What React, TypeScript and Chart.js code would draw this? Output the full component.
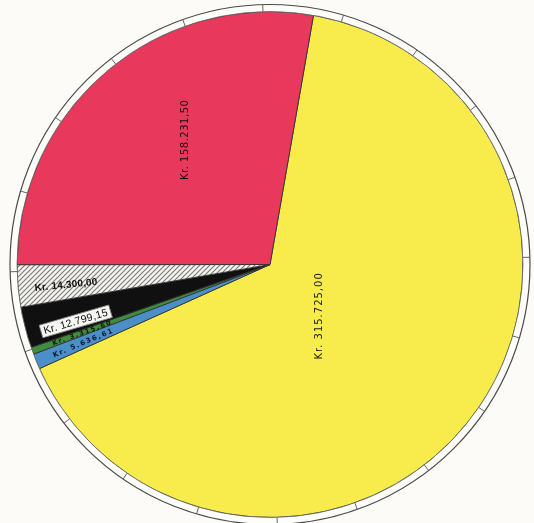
import React, { useEffect, useRef } from "react";
import { Chart, ArcElement, PieController } from "chart.js";

Chart.register(ArcElement, PieController);

// Slices in drawing order (clockwise from the red/yellow boundary)
const categories = ["Gelb", "Blau", "Grün", "Schwarz", "Schraffiert", "Rot"];
// Slice sizes (percent of the full circle)
const sliceShares = [65.5, 0.98, 0.45, 2.62, 2.69, 27.76];
// Amount labels written on the slices
const amountLabels = [
  "Kr. 315.725,00",
  "Kr. 5.636,61",
  "Kr. 3.315,60",
  "Kr. 12.799,15",
  "Kr. 14.300,00",
  "Kr. 158.231,50",
];
// Division ticks on the outer ring
const ringTickCount = 20;

type LabelStyle = {
  angleFrac: number;
  radiusFrac: number;
  mode: "vertical" | "radial";
  font: string;
  spacing: string;
  color: string;
  box?: boolean;
};

const labelStyles: LabelStyle[] = [
  { angleFrac: 0.537, radiusFrac: 0.28, mode: "vertical", font: "10px 'DejaVu Sans'", spacing: "1px", color: "#1a1a14" },
  { angleFrac: 0.45, radiusFrac: 0.8, mode: "radial", font: "bold 7px 'DejaVu Sans'", spacing: "1.5px", color: "#0c1830" },
  { angleFrac: 0.5, radiusFrac: 0.79, mode: "radial", font: "bold 6.5px 'DejaVu Sans'", spacing: "1.6px", color: "#0a1406" },
  { angleFrac: 0.3, radiusFrac: 0.8, mode: "radial", font: "10.5px 'Liberation Sans'", spacing: "0.3px", color: "#0a0a0a", box: true },
  { angleFrac: 0.42, radiusFrac: 0.81, mode: "radial", font: "bold 10px 'Liberation Sans'", spacing: "0.2px", color: "#111" },
  { angleFrac: 0.557, radiusFrac: 0.597, mode: "vertical", font: "10px 'DejaVu Sans'", spacing: "0.5px", color: "#1a0a10" },
];

function makeHatch(): CanvasPattern | string {
  const c = document.createElement("canvas");
  c.width = 5;
  c.height = 5;
  const g = c.getContext("2d");
  if (!g) return "#ddd";
  g.fillStyle = "#f4f3ee";
  g.fillRect(0, 0, 5, 5);
  g.strokeStyle = "#7a7a78";
  g.lineWidth = 1.1;
  g.beginPath();
  g.moveTo(-1, 6);
  g.lineTo(6, -1);
  g.moveTo(-1, 1);
  g.lineTo(1, -1);
  g.moveTo(4, 6);
  g.lineTo(6, 4);
  g.stroke();
  const p = g.createPattern(c, "repeat");
  return p || "#ddd";
}

const ringPlugin = {
  id: "ringAndLabels",
  afterDatasetsDraw(chart: any) {
    const ctx: CanvasRenderingContext2D = chart.ctx;
    const meta = chart.getDatasetMeta(0);
    if (!meta.data.length) return;
    const first = meta.data[0].getProps(["x", "y", "outerRadius"], true);
    const cx = first.x;
    const cy = first.y;
    const R = first.outerRadius;
    const W = 7;
    ctx.save();
    // white ring
    ctx.beginPath();
    ctx.arc(cx, cy, R + W, 0, Math.PI * 2);
    ctx.arc(cx, cy, R, 0, Math.PI * 2, true);
    ctx.fillStyle = "#fdfdfa";
    ctx.fill();
    ctx.lineWidth = 1.2;
    ctx.strokeStyle = "#4a4a4a";
    ctx.beginPath();
    ctx.arc(cx, cy, R + W, 0, Math.PI * 2);
    ctx.stroke();
    ctx.lineWidth = 0.8;
    ctx.strokeStyle = "#6a6a6a";
    ctx.beginPath();
    ctx.arc(cx, cy, R, 0, Math.PI * 2);
    ctx.stroke();
    // ticks
    const tickOffset = (-1.6 * Math.PI) / 180;
    ctx.lineWidth = 0.9;
    ctx.strokeStyle = "#555";
    for (let i = 0; i < ringTickCount; i++) {
      const a = -Math.PI / 2 + tickOffset + (i * 2 * Math.PI) / ringTickCount;
      ctx.beginPath();
      ctx.moveTo(cx + Math.cos(a) * R, cy + Math.sin(a) * R);
      ctx.lineTo(cx + Math.cos(a) * (R + W), cy + Math.sin(a) * (R + W));
      ctx.stroke();
    }
    // labels
    meta.data.forEach((arc: any, i: number) => {
      const st = labelStyles[i];
      const p = arc.getProps(["x", "y", "startAngle", "endAngle", "outerRadius"], true);
      const ang = p.startAngle + (p.endAngle - p.startAngle) * st.angleFrac;
      const r = p.outerRadius * st.radiusFrac;
      const x = p.x + Math.cos(ang) * r;
      const y = p.y + Math.sin(ang) * r;
      ctx.save();
      ctx.translate(x, y);
      ctx.rotate(st.mode === "vertical" ? -Math.PI / 2 : ang + Math.PI);
      ctx.font = st.font;
      (ctx as any).letterSpacing = st.spacing;
      ctx.textAlign = "center";
      ctx.textBaseline = "middle";
      const text = amountLabels[i];
      if (st.box) {
        const w = ctx.measureText(text).width + 6;
        ctx.fillStyle = "#f6f6f2";
        ctx.fillRect(-w / 2, -6.5, w, 13);
        ctx.lineWidth = 0.8;
        ctx.strokeStyle = "#888";
        ctx.strokeRect(-w / 2, -6.5, w, 13);
      }
      ctx.fillStyle = st.color;
      ctx.fillText(text, 0, 0.5);
      ctx.restore();
    });
    ctx.restore();
  },
};

export default function App() {
  const ref = useRef<HTMLCanvasElement | null>(null);
  useEffect(() => {
    document.body.style.margin = "0";
    document.body.style.background = "#fcfbf7";
    if (!ref.current) return;
    const chart = new Chart(ref.current, {
      type: "pie",
      data: {
        labels: categories,
        datasets: [
          {
            data: sliceShares,
            backgroundColor: ["#f7ec4c", "#4a8fc8", "#3f8c3c", "#101010", makeHatch() as any, "#e8395c"],
            borderColor: "#333",
            borderWidth: 0.9,
          },
        ],
      },
      options: {
        animation: false,
        responsive: false,
        rotation: 9.9,
        radius: 253,
        layout: { padding: { left: 6, right: 0, top: 6, bottom: 0 } },
        events: [],
      } as any,
      plugins: [ringPlugin],
    });
    return () => chart.destroy();
  }, []);
  return (
    <div style={{ width: 534, height: 523, background: "#fcfbf7" }}>
      <canvas ref={ref} width={534} height={523} style={{ display: "block" }} />
    </div>
  );
}
